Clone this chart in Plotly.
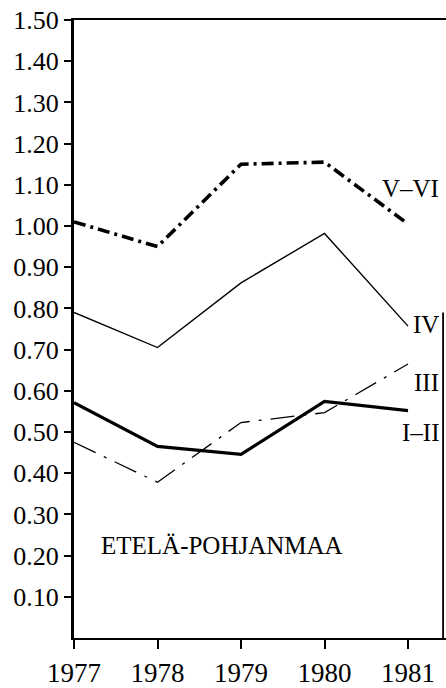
import plotly.graph_objects as go

years = [1977, 1978, 1979, 1980, 1981]
v_vi = [1.01, 0.95, 1.15, 1.155, 1.005]
iv = [0.79, 0.705, 0.862, 0.982, 0.757]
iii = [0.475, 0.378, 0.523, 0.547, 0.665]
i_ii = [0.571, 0.465, 0.446, 0.574, 0.552]

series_names = ["V–VI", "IV", "III", "I–II"]
region_label = "ETELÄ-POHJANMAA"
ytick_vals = [0.1, 0.2, 0.3, 0.4, 0.5, 0.6, 0.7, 0.8, 0.9, 1.0, 1.1, 1.2, 1.3, 1.4, 1.5]
ytick_text = ["0.10", "0.20", "0.30", "0.40", "0.50", "0.60", "0.70", "0.80",
              "0.90", "1.00", "1.10", "1.20", "1.30", "1.40", "1.50"]

FONT = "Liberation Serif, Times New Roman, serif"

fig = go.Figure()
fig.add_trace(go.Scatter(x=years, y=v_vi, mode="lines", name=series_names[0],
                         line=dict(color="black", width=3.6, dash="12px,5px,3px,5px")))
fig.add_trace(go.Scatter(x=years, y=iv, mode="lines", name=series_names[1],
                         line=dict(color="black", width=1.4)))
fig.add_trace(go.Scatter(x=years, y=iii, mode="lines", name=series_names[2],
                         line=dict(color="black", width=1.3, dash="24px,9px,3px,9px")))
fig.add_trace(go.Scatter(x=years, y=i_ii, mode="lines", name=series_names[3],
                         line=dict(color="black", width=3.2)))

label_y = [1.09, 0.76, 0.62, 0.50]
for name, yv in zip(series_names, label_y):
    fig.add_annotation(x=1981.4, y=yv, text=name, showarrow=False, xanchor="right",
                       yanchor="middle", font=dict(family=FONT, size=25, color="black"))

fig.add_annotation(x=1977.3, y=0.225, text=region_label, showarrow=False, xanchor="left",
                   yanchor="middle", font=dict(family=FONT, size=25, color="black"))

# partial right border
fig.add_shape(type="line", x0=1981.42, x1=1981.42, y0=0, y1=0.79, xref="x", yref="y",
              line=dict(color="black", width=1.8))

fig.update_layout(
    width=446, height=688,
    margin=dict(l=74, r=0, t=20, b=46),
    paper_bgcolor="white", plot_bgcolor="white",
    showlegend=False,
    font=dict(family=FONT, color="black"),
)
fig.update_xaxes(range=[1977, 1981.455], tickvals=years, ticktext=[str(y) for y in years],
                 showgrid=False, zeroline=False, showline=True, linecolor="black",
                 linewidth=2.4, mirror=True, ticks="outside", ticklen=9, tickwidth=2,
                 tickcolor="black", tickfont=dict(family=FONT, size=27, color="black"))
fig.update_yaxes(range=[0, 1.5], tickvals=ytick_vals, ticktext=ytick_text,
                 showgrid=False, zeroline=False, showline=True, linecolor="black",
                 linewidth=3.2, ticks="outside", ticklen=7, tickwidth=2,
                 tickcolor="black", tickfont=dict(family=FONT, size=26, color="black"))

fig.write_html("out.html", config={"displayModeBar": False},
               post_script="document.body.style.margin='0';document.body.style.overflow='hidden';")
